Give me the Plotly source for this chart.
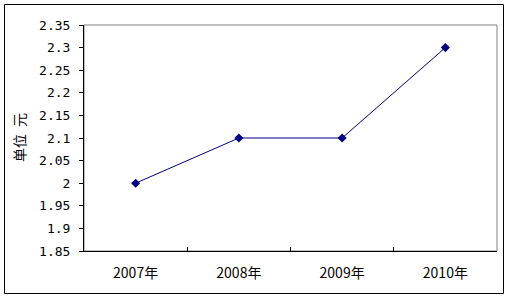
import plotly.graph_objects as go

categories = ["2007年", "2008年", "2009年", "2010年"]
values = [2.0, 2.1, 2.1, 2.3]
y_tick_vals = [1.85, 1.9, 1.95, 2.0, 2.05, 2.1, 2.15, 2.2, 2.25, 2.3, 2.35]
y_tick_text = ["1.85", "1.9", "1.95", "2", "2.05", "2.1", "2.15", "2.2", "2.25", "2.3", "2.35"]
y_title = "单位\u2002元"

W, H = 513, 306
L, T, R, B = 84, 25, 497, 251
pw, ph = R - L, B - T

def px(x):
    return (x - L) / pw

def py(y):
    return (B - y) / ph

fig = go.Figure()
fig.add_trace(go.Scatter(
    x=categories, y=values, mode="lines+markers",
    line=dict(color="#000080", width=1),
    marker=dict(symbol="diamond", size=7, color="#000080"),
    cliponaxis=False,
))

fig.update_layout(
    width=W, height=H,
    margin=dict(l=L, r=W - R, t=T, b=H - B),
    paper_bgcolor="white", plot_bgcolor="white",
    showlegend=False,
    font=dict(family="Noto Sans CJK SC", color="black"),
    shapes=[
        dict(type="rect", xref="paper", yref="paper", x0=0, x1=1, y0=0, y1=1,
             line=dict(color="#808080", width=1), layer="below"),
        dict(type="rect", xref="paper", yref="paper",
             x0=px(4.5), x1=px(503.5), y0=py(293.5), y1=py(4.5),
             line=dict(color="black", width=1), layer="below"),
    ],
    annotations=[
        dict(text=y_title, xref="paper", yref="paper", x=px(19), y=py(138),
             textangle=-90, showarrow=False, xanchor="center", yanchor="middle",
             font=dict(family="Noto Sans CJK SC", size=14, color="black")),
    ],
)

fig.update_xaxes(
    type="category", showgrid=False, zeroline=False,
    showline=True, linecolor="black", linewidth=1,
    ticks="inside", ticklen=4, tickcolor="black", tickson="boundaries",
    tickfont=dict(family="Noto Sans CJK SC", size=14, color="black"),
    ticklabelstandoff=9,
    range=[-0.5, 3.5],
)
fig.update_yaxes(
    range=[1.85, 2.35], showgrid=False, zeroline=False,
    showline=True, linecolor="black", linewidth=1,
    tickmode="array", tickvals=y_tick_vals, ticktext=y_tick_text,
    ticks="outside", ticklen=4, tickcolor="black",
    tickfont=dict(family="DejaVu Sans Mono", size=13, color="black"),
    ticklabelstandoff=6,
)

fig.write_html("out.html")
